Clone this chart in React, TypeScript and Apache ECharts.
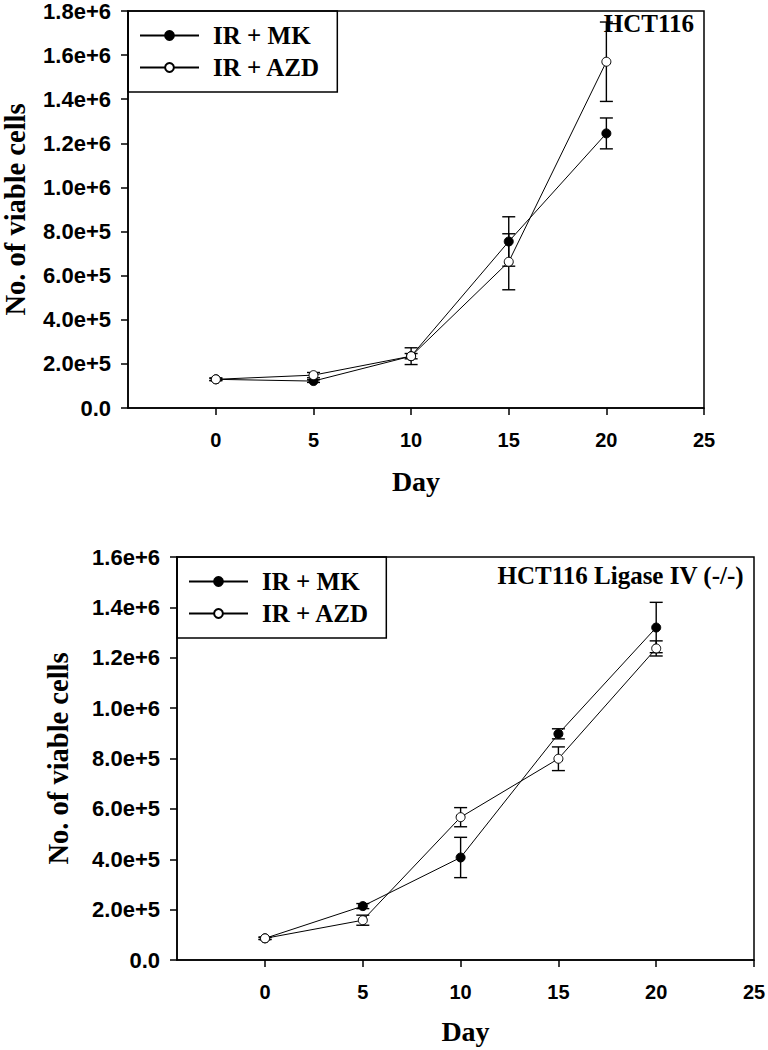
import React, { useEffect, useRef } from "react";
import * as echarts from "echarts";

// ---- data ----
const days = [0, 5, 10, 15, 20];
const xTicks = [0, 5, 10, 15, 20, 25];

// Top panel: HCT116
const topMK = [130000, 122000, 235000, 755000, 1245000];
const topMKErr = [5000, 6000, 38000, 112000, 70000];
const topAZD = [130000, 149000, 235000, 663000, 1570000];
const topAZDErr = [6000, 12000, 12000, 127000, 180000];
const topYLabels = ["0.0", "2.0e+5", "4.0e+5", "6.0e+5", "8.0e+5", "1.0e+6", "1.2e+6", "1.4e+6", "1.6e+6", "1.8e+6"];

// Bottom panel: HCT116 Ligase IV (-/-)
const botMK = [86000, 214000, 407000, 898000, 1320000];
const botMKErr = [4000, 10000, 80000, 20000, 100000];
const botAZD = [86000, 158000, 567000, 799000, 1237000];
const botAZDErr = [5000, 20000, 38000, 47000, 30000];
const botYLabels = ["0.0", "2.0e+5", "4.0e+5", "6.0e+5", "8.0e+5", "1.0e+6", "1.2e+6", "1.4e+6", "1.6e+6"];

const seriesNames = ["IR + MK", "IR + AZD"];
const titles = ["HCT116", "HCT116 Ligase IV (-/-)"];

const SERIF = "'Liberation Serif', 'Times New Roman', serif";
const SANS = "'Liberation Sans', Arial, sans-serif";

function errData(xs: number[], ys: number[], es: number[]) {
  return xs.map((x, i) => [x, ys[i], es[i]]);
}

function lineData(xs: number[], ys: number[]) {
  return xs.map((x, i) => [x, ys[i]]);
}

const errRender = (params: any, api: any) => {
  const x = api.value(0);
  const y = api.value(1);
  const e = api.value(2);
  const hi = api.coord([x, y + e]);
  const lo = api.coord([x, y - e]);
  const hw = 6.5;
  const style = { stroke: "#000", lineWidth: 1.4 };
  return {
    type: "group",
    children: [
      { type: "line", shape: { x1: hi[0], y1: hi[1], x2: lo[0], y2: lo[1] }, style },
      { type: "line", shape: { x1: hi[0] - hw, y1: hi[1], x2: hi[0] + hw, y2: hi[1] }, style },
      { type: "line", shape: { x1: lo[0] - hw, y1: lo[1], x2: lo[0] + hw, y2: lo[1] }, style },
    ],
  };
};

function makeX(gridIndex: number, nameGap: number) {
  return {
    gridIndex,
    type: "value",
    min: -4.5,
    max: 25,
    axisLine: { show: true, onZero: false, lineStyle: { color: "#000", width: 1.5 } },
    axisTick: { show: true, inside: false, length: 7, customValues: xTicks, lineStyle: { color: "#000", width: 1.5 } },
    axisLabel: {
      customValues: xTicks,
      margin: 22,
      fontFamily: SANS,
      fontWeight: "bold",
      fontSize: 20,
      color: "#000",
    },
    splitLine: { show: false },
    name: "Day",
    nameLocation: "middle",
    nameGap,
    nameMoveOverlap: false,
    nameTextStyle: { fontFamily: SERIF, fontWeight: "bold", fontSize: 28, color: "#000" },
  };
}

function makeY(gridIndex: number, max: number, labels: string[], nameGap: number) {
  return {
    gridIndex,
    type: "value",
    min: 0,
    max,
    interval: 200000,
    axisLine: { show: true, onZero: false, lineStyle: { color: "#000", width: 1.5 } },
    axisTick: { show: true, inside: false, length: 7, lineStyle: { color: "#000", width: 1.5 } },
    axisLabel: {
      margin: 17,
      fontFamily: SANS,
      fontWeight: "bold",
      fontSize: 22,
      lineHeight: 18,
      color: "#000",
      formatter: (v: number) => labels[Math.round(v / 200000)] ?? "",
    },
    splitLine: { show: false },
    name: "No. of viable cells",
    nameLocation: "middle",
    nameGap,
    nameMoveOverlap: false,
    nameTextStyle: { fontFamily: SERIF, fontWeight: "bold", fontSize: 28.5, lineHeight: 26, color: "#000" },
  };
}

function lineSeries(name: string, idx: number, ys: number[], filled: boolean) {
  return {
    name,
    type: "line",
    xAxisIndex: idx,
    yAxisIndex: idx,
    data: lineData(days, ys),
    symbol: "circle",
    symbolSize: 9,
    showSymbol: true,
    z: 3,
    lineStyle: { color: "#000", width: 1 },
    itemStyle: { color: filled ? "#000" : "#fff", borderColor: "#000", borderWidth: 1 },
    emphasis: { disabled: true },
  };
}

function errSeries(name: string, idx: number, ys: number[], es: number[]) {
  return {
    name,
    type: "custom",
    xAxisIndex: idx,
    yAxisIndex: idx,
    data: errData(days, ys, es),
    renderItem: errRender,
    z: 1,
    silent: true,
  };
}

function makeLegend(left: number, top: number) {
  return {
    orient: "vertical",
    left,
    top,
    itemWidth: 59,
    itemHeight: 11,
    itemGap: 7,
    padding: [12, 17, 12, 11],
    borderColor: "#000",
    borderWidth: 1.5,
    selectedMode: false,
    textStyle: {
      fontFamily: SERIF,
      fontWeight: "bold",
      fontSize: 25,
      color: "#000",
      padding: [0, 0, 0, 9],
    },
    data: seriesNames,
  };
}

export default function App() {
  const ref = useRef<HTMLDivElement>(null);

  useEffect(() => {
    if (!ref.current) return;
    const chart = echarts.init(ref.current, undefined, { renderer: "svg" });
    chart.setOption({
      animation: false,
      backgroundColor: "#fff",
      title: [
        {
          text: titles[0],
          right: 74,
          top: 11,
          padding: 0,
          textStyle: { fontFamily: SERIF, fontWeight: "bold", fontSize: 25, color: "#000" },
        },
        {
          text: titles[1],
          right: 24,
          top: 563,
          padding: 0,
          textStyle: { fontFamily: SERIF, fontWeight: "bold", fontSize: 25, color: "#000" },
        },
      ],
      legend: [makeLegend(128, 11), makeLegend(177, 557)],
      grid: [
        {
          left: 128, top: 11, width: 576, height: 397,
          outerBoundsMode: "none", containLabel: false,
          show: true, borderColor: "#000", borderWidth: 1.5, backgroundColor: "transparent",
        },
        {
          left: 177, top: 557, width: 577, height: 403,
          outerBoundsMode: "none", containLabel: false,
          show: true, borderColor: "#000", borderWidth: 1.5, backgroundColor: "transparent",
        },
      ],
      xAxis: [makeX(0, 59), makeX(1, 57)],
      yAxis: [makeY(0, 1800000, topYLabels, 100), makeY(1, 1600000, botYLabels, 106)],
      series: [
        errSeries("errTopMK", 0, topMK, topMKErr),
        errSeries("errTopAZD", 0, topAZD, topAZDErr),
        lineSeries(seriesNames[0], 0, topMK, true),
        lineSeries(seriesNames[1], 0, topAZD, false),
        errSeries("errBotMK", 1, botMK, botMKErr),
        errSeries("errBotAZD", 1, botAZD, botAZDErr),
        lineSeries(seriesNames[0], 1, botMK, true),
        lineSeries(seriesNames[1], 1, botAZD, false),
      ],
    });
    return () => chart.dispose();
  }, []);

  return (
    <div
      ref={ref}
      style={{ position: "fixed", left: 0, top: 0, width: 768, height: 1050, background: "#fff" }}
    />
  );
}
